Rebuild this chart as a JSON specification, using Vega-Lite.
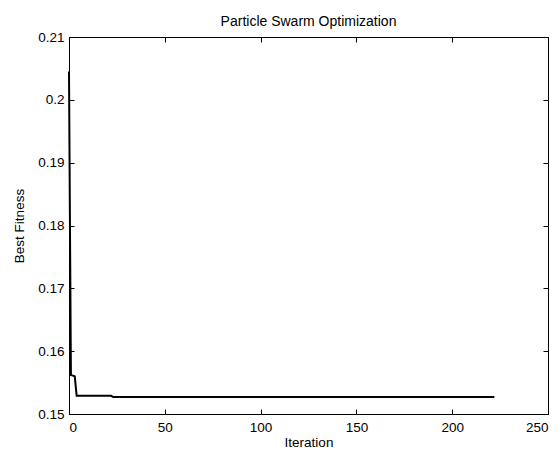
{
  "$schema": "https://vega.github.io/schema/vega-lite/v6.json",
  "width": 479,
  "height": 377,
  "autosize": {"type": "none"},
  "padding": {"left": 69, "top": 37, "right": 12, "bottom": 38},
  "background": "white",
  "config": {
    "font": "Liberation Sans",
    "view": {"stroke": null},
    "axis": {
      "grid": false,
      "domainColor": "#000000",
      "domainWidth": 1,
      "tickColor": "#000000",
      "tickSize": -5,
      "labelFontSize": 13.5,
      "labelColor": "#000000",
      "titleFontSize": 13.5,
      "titleFontWeight": "normal",
      "titleColor": "#000000"
    }
  },
  "title": {"text": "Particle Swarm Optimization", "fontSize": 14, "fontWeight": "normal", "font": "Liberation Sans", "offset": 1, "color": "#000000"},
  "data": {
    "values": [
      {"iteration": 0, "fitness": 0.2045},
      {"iteration": 1, "fitness": 0.1562},
      {"iteration": 2, "fitness": 0.1561},
      {"iteration": 3, "fitness": 0.1560},
      {"iteration": 4, "fitness": 0.1529},
      {"iteration": 22, "fitness": 0.1529},
      {"iteration": 23, "fitness": 0.1527},
      {"iteration": 222, "fitness": 0.1527}
    ]
  },
  "layer": [
    {
      "mark": {"type": "line", "color": "#000000", "strokeWidth": 2, "clip": false},
      "encoding": {
        "x": {"field": "iteration", "type": "quantitative", "scale": {"domain": [0, 250], "nice": false},
              "axis": {"title": "Iteration", "values": [0, 50, 100, 150, 200, 250], "format": "d", "labelPadding": 11, "titlePadding": 2, "orient": "bottom"}},
        "y": {"field": "fitness", "type": "quantitative", "scale": {"domain": [0.15, 0.21], "nice": false, "zero": false},
              "axis": {"title": "Best Fitness", "values": [0.15, 0.16, 0.17, 0.18, 0.19, 0.2, 0.21], "format": "~g", "labelPadding": 10, "titlePadding": 11, "orient": "left"}}
      }
    },
    {
      "mark": {"type": "line", "opacity": 0},
      "encoding": {
        "x": {"field": "iteration", "type": "quantitative", "axis": {"orient": "top", "labels": false, "title": null, "values": [0, 50, 100, 150, 200, 250]}},
        "y": {"field": "fitness", "type": "quantitative", "axis": {"orient": "right", "labels": false, "title": null, "values": [0.15, 0.16, 0.17, 0.18, 0.19, 0.2, 0.21]}}
      }
    }
  ],
  "resolve": {"axis": {"x": "independent", "y": "independent"}}
}
